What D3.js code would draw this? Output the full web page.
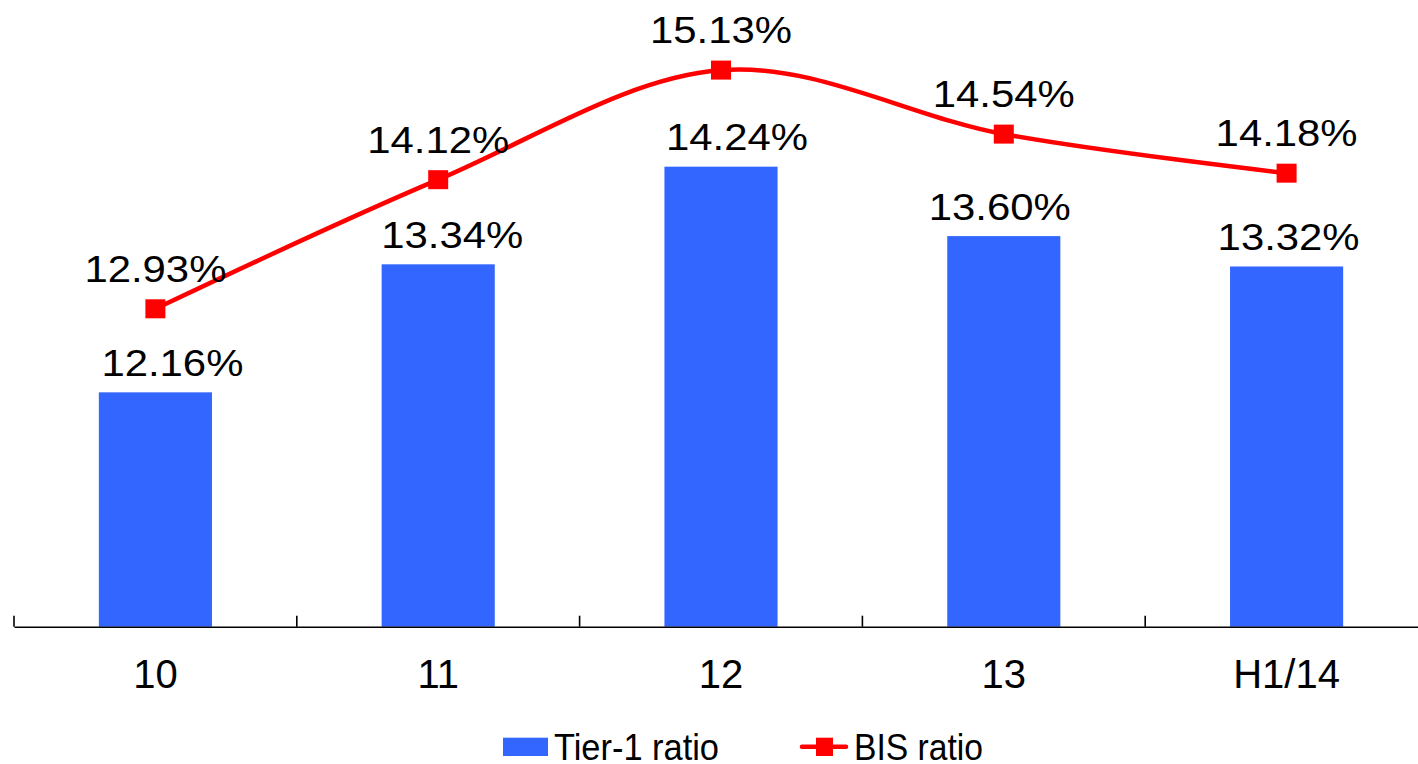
<!DOCTYPE html>
<html>
<head>
<meta charset="utf-8">
<script src="https://cdn.jsdelivr.net/npm/d3@7/dist/d3.min.js"></script>
<style>
  html, body { margin: 0; padding: 0; background: #fff; }
  svg { display: block; font-family: "Liberation Sans", Arial, sans-serif; }
</style>
</head>
<body>
<svg id="chart" width="1418" height="764"></svg>
<script>
const categories = ["10", "11", "12", "13", "H1/14"];
const tier1 = [12.16, 13.34, 14.24, 13.60, 13.32];
const bis = [12.93, 14.12, 15.13, 14.54, 14.18];
const seriesNames = ["Tier-1 ratio", "BIS ratio"];
// manual horizontal nudges of the bar value labels (layout only)
const barLabelDx = [17, 14, 16, -4, 2];

const svg = d3.select("#chart");
const axisY = 626.7;
const blue = "#3366FF", red = "#FF0000";

const x = d3.scaleBand().domain(categories).range([14, 1428]).paddingInner(0.6).paddingOuter(0.3);
const y = d3.scaleLinear().domain([10, 15]).range([axisY, axisY - 5 * 108.5]);

// bars
svg.append("g").selectAll("rect").data(tier1).join("rect")
  .attr("x", (d, i) => x(categories[i]))
  .attr("y", d => y(d))
  .attr("width", x.bandwidth())
  .attr("height", d => y(10) - y(d))
  .attr("fill", blue);

// axis
const ax = svg.append("g").attr("transform", `translate(0,${axisY})`)
  .call(d3.axisBottom(x).tickSize(0).tickSizeOuter(0));
ax.select(".domain").attr("stroke", "#000").attr("stroke-width", 1.6);
ax.selectAll(".tick text").attr("y", 61).attr("dy", 0)
  .attr("font-size", 40).attr("font-family", "Liberation Sans, Arial, sans-serif").attr("fill", "#000");
// boundary ticks between categories
const bx = categories.map((c, i) => x.range()[0] + i * x.step());
bx.push(x.range()[0] + categories.length * x.step());
ax.selectAll(".btick").data(bx).join("line")
  .attr("x1", d => d).attr("x2", d => d)
  .attr("y1", 0).attr("y2", -11)
  .attr("stroke", "#000").attr("stroke-width", 1.6);

// bar labels
svg.append("g").selectAll("text").data(tier1).join("text")
  .attr("x", (d, i) => x(categories[i]) + x.bandwidth() / 2 + barLabelDx[i])
  .attr("y", d => y(d) - 16.5)
  .attr("text-anchor", "middle")
  .attr("font-size", 37)
  .attr("textLength", 142).attr("lengthAdjust", "spacingAndGlyphs")
  .attr("fill", "#000")
  .text(d => d.toFixed(2) + "%");

// line
const cx = i => x(categories[i]) + x.bandwidth() / 2;
const line = d3.line().x((d, i) => cx(i)).y(d => y(d)).curve(d3.curveCardinal.tension(0));
svg.append("path").datum(bis).attr("d", line)
  .attr("fill", "none").attr("stroke", red).attr("stroke-width", 4.5);
svg.append("g").selectAll("rect").data(bis).join("rect")
  .attr("x", (d, i) => cx(i) - 10).attr("y", d => y(d) - 9.5)
  .attr("width", 20).attr("height", 19).attr("fill", red);
svg.append("g").selectAll("text").data(bis).join("text")
  .attr("x", (d, i) => cx(i))
  .attr("y", d => y(d) - 27)
  .attr("text-anchor", "middle")
  .attr("font-size", 37)
  .attr("textLength", 142).attr("lengthAdjust", "spacingAndGlyphs")
  .attr("fill", "#000")
  .text(d => d.toFixed(2) + "%");

// legend
const lg = svg.append("g");
lg.append("rect").attr("x", 503).attr("y", 737.7).attr("width", 45).attr("height", 18.3).attr("fill", blue);
lg.append("text").attr("x", 554).attr("y", 759.5).attr("font-size", 37)
  .attr("textLength", 165).attr("lengthAdjust", "spacingAndGlyphs")
  .attr("fill", "#000").text(seriesNames[0]);
lg.append("line").attr("x1", 802).attr("x2", 846).attr("y1", 746.8).attr("y2", 746.8)
  .attr("stroke", red).attr("stroke-width", 4.5).attr("stroke-linecap", "round");
lg.append("rect").attr("x", 816).attr("y", 737.7).attr("width", 17).attr("height", 18.3).attr("fill", red);
lg.append("text").attr("x", 854).attr("y", 759.5).attr("font-size", 37)
  .attr("textLength", 129).attr("lengthAdjust", "spacingAndGlyphs")
  .attr("fill", "#000").text(seriesNames[1]);
</script>
</body>
</html>
